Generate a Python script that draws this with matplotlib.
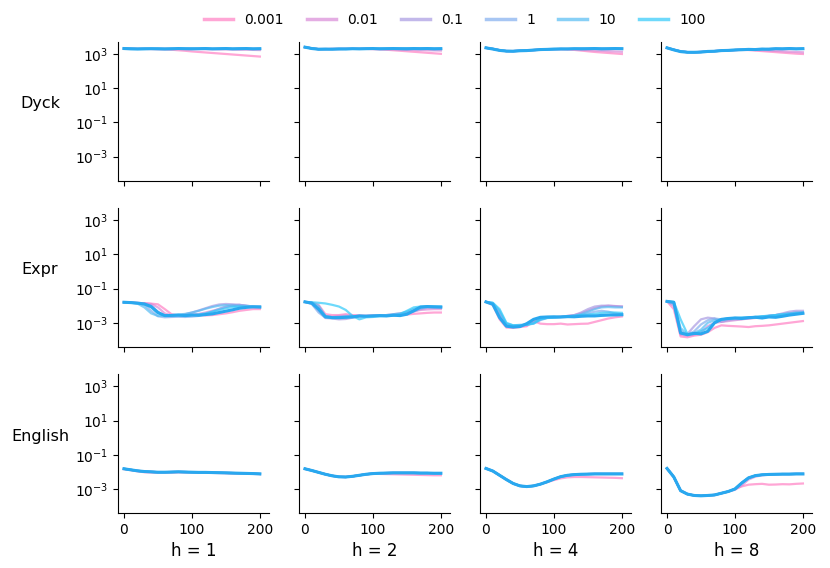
import numpy as np
import matplotlib; matplotlib.use("Agg"); import matplotlib.pyplot as plt

# training step grid (every 10 steps)
steps = [0, 10, 20, 30, 40, 50, 60, 70, 80, 90, 100, 110, 120, 130, 140, 150, 160, 170, 180, 190, 200]
lrs = ["0.001", "0.01", "0.1", "1", "10", "100"]
tasks = ["Dyck", "Expr", "English"]
hs = [1, 2, 4, 8]

# log10(loss) per panel, series order: 0.001, 0.01, 0.1, 1, 10, 100, reference (thick)
dyck_flat = [3.32, 3.31, 3.3, 3.31, 3.3, 3.31, 3.3, 3.31, 3.3, 3.3, 3.31, 3.3, 3.31, 3.3, 3.3, 3.31, 3.3, 3.31, 3.3, 3.3, 3.3]
dyck_h1 = [
    [3.32, 3.31, 3.3, 3.3, 3.29, 3.28, 3.27, 3.25, 3.22, 3.19, 3.15, 3.12, 3.09, 3.06, 3.03, 3.0, 2.97, 2.94, 2.91, 2.88, 2.85],
    [3.32, 3.31, 3.3, 3.3, 3.3, 3.3, 3.31, 3.3, 3.3, 3.29, 3.3, 3.29, 3.28, 3.28, 3.27, 3.27, 3.26, 3.25, 3.25, 3.24, 3.23],
    dyck_flat, dyck_flat, dyck_flat, dyck_flat,
    [3.32, 3.3, 3.29, 3.3, 3.31, 3.3, 3.29, 3.3, 3.32, 3.31, 3.3, 3.31, 3.32, 3.3, 3.31, 3.32, 3.3, 3.31, 3.32, 3.3, 3.31],
]
dyck_h2_base = [3.4, 3.33, 3.28, 3.28, 3.29, 3.29, 3.3, 3.3, 3.3, 3.31, 3.3, 3.31, 3.31, 3.3, 3.31, 3.32, 3.31, 3.31, 3.32, 3.31, 3.31]
dyck_h2 = [
    [3.4, 3.33, 3.29, 3.29, 3.3, 3.3, 3.3, 3.3, 3.3, 3.3, 3.29, 3.27, 3.25, 3.22, 3.19, 3.16, 3.13, 3.1, 3.07, 3.04, 3.01],
    [3.4, 3.33, 3.28, 3.28, 3.29, 3.29, 3.3, 3.3, 3.3, 3.3, 3.29, 3.29, 3.28, 3.27, 3.26, 3.25, 3.24, 3.23, 3.22, 3.21, 3.2],
    dyck_h2_base, dyck_h2_base, dyck_h2_base, dyck_h2_base,
    [3.4, 3.32, 3.28, 3.29, 3.28, 3.3, 3.29, 3.31, 3.3, 3.31, 3.32, 3.3, 3.31, 3.32, 3.31, 3.3, 3.32, 3.31, 3.32, 3.3, 3.31],
]
dyck_h4_base = [3.36, 3.3, 3.22, 3.17, 3.17, 3.19, 3.21, 3.23, 3.25, 3.27, 3.28, 3.29, 3.3, 3.3, 3.31, 3.3, 3.31, 3.31, 3.3, 3.31, 3.3]
dyck_h4 = [
    [3.36, 3.3, 3.22, 3.17, 3.17, 3.19, 3.21, 3.23, 3.25, 3.27, 3.28, 3.28, 3.27, 3.24, 3.2, 3.16, 3.12, 3.09, 3.06, 3.03, 3.0],
    [3.36, 3.3, 3.22, 3.17, 3.17, 3.19, 3.21, 3.23, 3.25, 3.27, 3.28, 3.29, 3.28, 3.27, 3.25, 3.23, 3.21, 3.19, 3.17, 3.15, 3.13],
    dyck_h4_base, dyck_h4_base, dyck_h4_base, dyck_h4_base,
    [3.36, 3.29, 3.21, 3.17, 3.16, 3.19, 3.2, 3.23, 3.26, 3.27, 3.29, 3.3, 3.29, 3.31, 3.3, 3.31, 3.32, 3.3, 3.31, 3.32, 3.31],
]
dyck_h8_base = [3.36, 3.25, 3.15, 3.11, 3.1, 3.12, 3.15, 3.17, 3.19, 3.21, 3.23, 3.25, 3.26, 3.27, 3.28, 3.29, 3.3, 3.3, 3.31, 3.3, 3.31]
dyck_h8 = [
    [3.36, 3.25, 3.15, 3.11, 3.1, 3.12, 3.15, 3.17, 3.19, 3.21, 3.23, 3.24, 3.23, 3.2, 3.17, 3.14, 3.11, 3.08, 3.05, 3.02, 3.0],
    [3.36, 3.25, 3.15, 3.11, 3.1, 3.12, 3.15, 3.17, 3.19, 3.21, 3.23, 3.25, 3.25, 3.24, 3.22, 3.2, 3.18, 3.16, 3.14, 3.12, 3.1],
    dyck_h8_base, dyck_h8_base, dyck_h8_base, dyck_h8_base,
    [3.36, 3.24, 3.14, 3.1, 3.1, 3.11, 3.15, 3.16, 3.2, 3.21, 3.24, 3.25, 3.27, 3.26, 3.29, 3.28, 3.31, 3.3, 3.32, 3.3, 3.31],
]

expr_h1 = [
    [-1.80, -1.82, -1.84, -1.86, -1.88, -1.92, -2.2, -2.5, -2.57, -2.55, -2.56, -2.55, -2.57, -2.55, -2.5, -2.45, -2.38, -2.3, -2.25, -2.2, -2.2],
    [-1.80, -1.82, -1.84, -1.86, -1.9, -2.1, -2.45, -2.58, -2.56, -2.55, -2.52, -2.48, -2.4, -2.3, -2.2, -2.08, -1.98, -1.95, -2.02, -2.08, -2.1],
    [-1.80, -1.82, -1.85, -1.88, -2.0, -2.35, -2.6, -2.62, -2.58, -2.5, -2.4, -2.28, -2.15, -2.02, -1.93, -1.9, -1.92, -1.95, -2.0, -2.05, -2.06],
    [-1.80, -1.83, -1.86, -1.95, -2.3, -2.62, -2.68, -2.66, -2.65, -2.66, -2.64, -2.6, -2.5, -2.35, -2.18, -2.05, -1.98, -1.96, -2.0, -2.05, -2.05],
    [-1.80, -1.83, -1.88, -2.1, -2.45, -2.6, -2.58, -2.55, -2.52, -2.48, -2.4, -2.3, -2.18, -2.08, -2.0, -1.97, -2.0, -2.05, -2.06, -2.07, -2.08],
    [-1.80, -1.82, -1.86, -1.92, -2.1, -2.45, -2.57, -2.56, -2.56, -2.55, -2.54, -2.52, -2.45, -2.35, -2.25, -2.15, -2.08, -2.05, -2.05, -2.06, -2.07],
    [-1.80, -1.82, -1.85, -1.90, -2.05, -2.40, -2.58, -2.57, -2.55, -2.58, -2.55, -2.56, -2.52, -2.48, -2.40, -2.32, -2.24, -2.15, -2.10, -2.07, -2.08],
]
expr_h2 = [
    [-1.78, -1.82, -1.95, -2.5, -2.55, -2.55, -2.5, -2.55, -2.58, -2.6, -2.58, -2.6, -2.58, -2.56, -2.55, -2.52, -2.48, -2.45, -2.42, -2.4, -2.4],
    [-1.78, -1.85, -2.1, -2.6, -2.65, -2.6, -2.58, -2.6, -2.58, -2.6, -2.58, -2.6, -2.55, -2.5, -2.45, -2.4, -2.32, -2.25, -2.22, -2.2, -2.2],
    [-1.78, -1.88, -2.3, -2.72, -2.75, -2.8, -2.78, -2.7, -2.65, -2.6, -2.6, -2.58, -2.55, -2.55, -2.5, -2.45, -2.35, -2.2, -2.12, -2.12, -2.12],
    [-1.78, -1.9, -2.4, -2.7, -2.72, -2.7, -2.68, -2.65, -2.62, -2.6, -2.58, -2.58, -2.56, -2.55, -2.52, -2.45, -2.3, -2.15, -2.08, -2.08, -2.1],
    [-1.78, -1.82, -2.0, -2.6, -2.68, -2.66, -2.62, -2.62, -2.6, -2.6, -2.6, -2.58, -2.55, -2.5, -2.45, -2.35, -2.2, -2.1, -2.05, -2.05, -2.06],
    [-1.78, -1.8, -1.83, -1.87, -1.95, -2.05, -2.25, -2.6, -2.8, -2.68, -2.66, -2.62, -2.6, -2.58, -2.5, -2.3, -2.1, -2.05, -2.04, -2.05, -2.06],
    [-1.78, -1.85, -2.2, -2.65, -2.7, -2.7, -2.68, -2.66, -2.6, -2.62, -2.6, -2.58, -2.6, -2.56, -2.58, -2.5, -2.3, -2.08, -2.05, -2.07, -2.08],
]
expr_h4 = [
    [-1.78, -1.95, -2.8, -3.28, -3.3, -3.25, -3.2, -2.9, -3.05, -3.08, -3.08, -3.05, -3.1, -3.08, -3.06, -3.05, -2.95, -2.85, -2.75, -2.68, -2.63],
    [-1.78, -1.9, -2.6, -3.2, -3.25, -3.2, -3.15, -2.9, -2.75, -2.7, -2.68, -2.65, -2.6, -2.55, -2.45, -2.3, -2.15, -2.05, -2.0, -2.02, -2.05],
    [-1.78, -1.88, -2.5, -3.15, -3.2, -3.18, -3.1, -3.0, -2.8, -2.7, -2.68, -2.65, -2.6, -2.55, -2.4, -2.2, -2.05, -2.0, -2.0, -2.03, -2.05],
    [-1.78, -1.85, -2.4, -3.1, -3.18, -3.15, -3.1, -3.05, -2.85, -2.72, -2.7, -2.68, -2.66, -2.62, -2.55, -2.45, -2.35, -2.3, -2.35, -2.45, -2.5],
    [-1.78, -1.84, -2.3, -3.05, -3.15, -3.12, -3.1, -3.0, -2.78, -2.7, -2.68, -2.66, -2.62, -2.6, -2.5, -2.35, -2.2, -2.1, -2.08, -2.1, -2.1],
    [-1.78, -1.83, -2.2, -3.0, -3.15, -3.15, -3.12, -3.05, -2.8, -2.72, -2.7, -2.66, -2.62, -2.58, -2.55, -2.52, -2.48, -2.42, -2.4, -2.4, -2.42],
    [-1.78, -1.92, -2.7, -3.2, -3.25, -3.22, -3.05, -2.8, -2.68, -2.66, -2.65, -2.66, -2.64, -2.65, -2.62, -2.6, -2.6, -2.57, -2.55, -2.54, -2.53],
]
expr_h8 = [
    [-1.75, -2.2, -3.8, -3.85, -3.75, -3.7, -3.55, -3.3, -3.15, -3.18, -3.2, -3.22, -3.25, -3.2, -3.18, -3.15, -3.1, -3.05, -3.0, -2.95, -2.9],
    [-1.75, -1.9, -3.7, -3.75, -3.7, -3.55, -3.2, -3.0, -2.95, -2.9, -2.85, -2.8, -2.75, -2.72, -2.65, -2.6, -2.55, -2.5, -2.45, -2.4, -2.4],
    [-1.75, -2.0, -3.6, -3.65, -3.2, -2.8, -2.7, -2.75, -2.95, -2.85, -2.8, -2.78, -2.75, -2.7, -2.65, -2.6, -2.55, -2.45, -2.35, -2.3, -2.3],
    [-1.75, -1.85, -3.5, -3.7, -3.5, -3.1, -2.85, -2.75, -2.8, -2.78, -2.75, -2.72, -2.7, -2.68, -2.65, -2.6, -2.55, -2.5, -2.45, -2.4, -2.38],
    [-1.75, -1.8, -3.3, -3.7, -3.6, -3.4, -3.0, -2.85, -2.8, -2.75, -2.72, -2.7, -2.7, -2.65, -2.62, -2.58, -2.55, -2.5, -2.45, -2.42, -2.4],
    [-1.75, -1.78, -2.8, -3.65, -3.65, -3.5, -3.3, -3.0, -2.82, -2.75, -2.72, -2.7, -2.7, -2.66, -2.62, -2.6, -2.55, -2.52, -2.5, -2.45, -2.42],
    [-1.75, -1.8, -3.6, -3.7, -3.62, -3.65, -3.5, -3.0, -2.8, -2.75, -2.72, -2.75, -2.7, -2.68, -2.72, -2.66, -2.68, -2.62, -2.55, -2.5, -2.45],
]

eng_h1_base = [-1.82, -1.88, -1.94, -1.98, -2.0, -2.02, -2.02, -2.01, -2.0, -2.01, -2.02, -2.03, -2.03, -2.04, -2.05, -2.06, -2.07, -2.08, -2.09, -2.1, -2.12]
english_h1 = [
    [-1.84, -1.9, -1.97, -2.02, -2.04, -2.05, -2.05, -2.04, -2.03, -2.03, -2.04, -2.05, -2.05, -2.06, -2.07, -2.08, -2.09, -2.1, -2.11, -2.12, -2.13],
    eng_h1_base, eng_h1_base, eng_h1_base, eng_h1_base, eng_h1_base, eng_h1_base,
]
eng_h2_base = [-1.82, -1.92, -2.03, -2.14, -2.23, -2.29, -2.3, -2.26, -2.2, -2.14, -2.1, -2.08, -2.07, -2.06, -2.06, -2.06, -2.06, -2.07, -2.07, -2.08, -2.08]
english_h2 = [
    [-1.82, -1.92, -2.03, -2.14, -2.23, -2.29, -2.3, -2.26, -2.2, -2.15, -2.1, -2.12, -2.13, -2.14, -2.15, -2.16, -2.17, -2.18, -2.19, -2.2, -2.2],
    eng_h2_base, eng_h2_base, eng_h2_base, eng_h2_base, eng_h2_base, eng_h2_base,
]
eng_h4_base = [-1.8, -1.95, -2.2, -2.45, -2.68, -2.82, -2.86, -2.82, -2.72, -2.58, -2.42, -2.28, -2.2, -2.16, -2.14, -2.13, -2.12, -2.12, -2.12, -2.12, -2.12]
english_h4 = [
    [-1.8, -1.95, -2.2, -2.45, -2.68, -2.82, -2.86, -2.82, -2.72, -2.6, -2.48, -2.38, -2.32, -2.3, -2.3, -2.31, -2.32, -2.33, -2.34, -2.35, -2.37],
    eng_h4_base, eng_h4_base, eng_h4_base, eng_h4_base, eng_h4_base, eng_h4_base,
]
eng_h8_base = [-1.8, -2.3, -3.1, -3.3, -3.38, -3.4, -3.38, -3.35, -3.25, -3.15, -3.0, -2.65, -2.35, -2.22, -2.17, -2.15, -2.14, -2.13, -2.13, -2.12, -2.12]
english_h8 = [
    [-1.8, -2.3, -3.1, -3.3, -3.38, -3.4, -3.38, -3.35, -3.25, -3.15, -3.0, -2.85, -2.75, -2.72, -2.7, -2.75, -2.74, -2.72, -2.73, -2.7, -2.68],
    [-1.8, -2.3, -3.1, -3.3, -3.38, -3.4, -3.38, -3.35, -3.25, -3.15, -3.05, -2.8, -2.45, -2.28, -2.2, -2.16, -2.14, -2.13, -2.13, -2.12, -2.12],
    eng_h8_base, eng_h8_base, eng_h8_base, eng_h8_base, eng_h8_base,
]

panels = [[dyck_h1, dyck_h2, dyck_h4, dyck_h8],
          [expr_h1, expr_h2, expr_h4, expr_h8],
          [english_h1, english_h2, english_h4, english_h8]]

COLORS = ["#ff80c4", "#d98ad8", "#a99ae2", "#82aeee", "#56bcf3", "#30cafa"]
REF_COLOR = "#29a8ef"

fig, axes = plt.subplots(3, 4, figsize=(8.3, 5.68), dpi=100, sharex=True, sharey=True)
fig.subplots_adjust(left=0.142, right=0.978, top=0.926, bottom=0.097, wspace=0.2, hspace=0.2)
x = np.array(steps)
for i, task in enumerate(tasks):
    for j, h in enumerate(hs):
        ax = axes[i, j]
        series = panels[i][j]
        for k, lab in enumerate(lrs):
            ax.plot(x, 10.0 ** np.array(series[k]), color=COLORS[k], lw=1.6, alpha=0.7, label=lab)
        ax.plot(x, 10.0 ** np.array(series[6]), color=REF_COLOR, lw=2.2)
        ax.set_yscale("log")
        ax.spines["top"].set_visible(False); ax.spines["right"].set_visible(False)
        if j == 0:
            ax.set_ylabel(task, rotation=0, fontsize=11.5, labelpad=25)
        if i == 2:
            ax.set_xlabel(f"h = {h}", fontsize=12)
ax = axes[0, 0]
ax.set_ylim(10 ** -4.4, 10 ** 3.7)
ax.set_yticks([1e-3, 1e-1, 1e1, 1e3])
ax.yaxis.set_minor_locator(matplotlib.ticker.NullLocator())
ax.set_xlim(-9, 213)
ax.set_xticks([0, 100, 200])
for a in axes.flat:
    a.tick_params(labelsize=10)

handles, labels = axes[0, 0].get_legend_handles_labels()
leg = fig.legend(handles, labels, loc="center", bbox_to_anchor=(0.548, 0.965), ncol=6,
                 frameon=False, fontsize=10, handlelength=2.1, columnspacing=1.65)
for lh in leg.get_lines():
    lh.set_linewidth(2.5)
fig.savefig("out.png", dpi=100)
